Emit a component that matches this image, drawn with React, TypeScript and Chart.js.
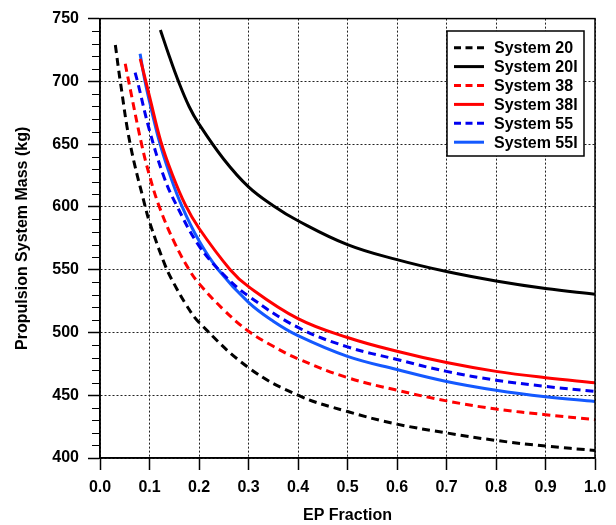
import React, { useEffect, useRef } from 'react';
import { Chart, registerables } from 'chart.js';

Chart.register(...registerables);

// ---- data ----
const xTickLabels = ['0.0', '0.1', '0.2', '0.3', '0.4', '0.5', '0.6', '0.7', '0.8', '0.9', '1.0'];
const yTickLabels = ['400', '450', '500', '550', '600', '650', '700', '750'];
const seriesNames = ['System 20', 'System 20I', 'System 38', 'System 38I', 'System 55', 'System 55I'];

const sys20X = [0.031, 0.041, 0.061, 0.0915, 0.1, 0.132, 0.15, 0.175, 0.2, 0.3, 0.4, 0.5, 0.6, 0.7, 0.8, 0.9, 1.0];
const sys20Y = [729, 700, 650, 600, 588, 553, 538.5, 521.5, 508, 472, 450, 437, 427, 420, 414, 409.5, 406];

const sys20IX = [0.122, 0.14, 0.1585, 0.18, 0.2, 0.25, 0.3, 0.35, 0.4, 0.5, 0.6, 0.7, 0.8, 0.9, 1.0];
const sys20IY = [741, 720, 700, 680, 666, 638, 616, 601, 589, 570, 558, 548.5, 541, 535, 530.5];

const sys38X = [0.051, 0.058, 0.084, 0.1, 0.12, 0.15, 0.18, 0.2, 0.25, 0.3, 0.35, 0.4, 0.5, 0.6, 0.7, 0.8, 0.9, 1.0];
const sys38Y = [714, 700, 650, 625, 600, 572, 550, 539, 518, 501, 489, 479, 464, 454, 445.5, 439, 434.5, 430.5];

const sys38IX = [0.0813, 0.0926, 0.1, 0.123, 0.145, 0.172, 0.2, 0.263, 0.3, 0.4, 0.5, 0.6, 0.7, 0.8, 0.9, 1.0];
const sys38IY = [718, 700, 688, 652, 627, 602, 583, 550, 536.5, 511, 496, 485, 476, 469, 464, 460];

const sys55X = [0.071, 0.0757, 0.1, 0.13, 0.155, 0.2, 0.25, 0.3, 0.4, 0.5, 0.6, 0.7, 0.8, 0.9, 1.0];
const sys55Y = [707, 700, 661, 623, 601, 569, 546, 529, 504, 488.5, 478.5, 469, 462, 457, 453];

const sys55IX = [0.081, 0.091, 0.1, 0.12, 0.14, 0.165, 0.2, 0.239, 0.3, 0.35, 0.4, 0.5, 0.6, 0.7, 0.8, 0.9, 1.0];
const sys55IY = [722, 700, 684, 652, 627, 601, 573, 550, 524, 509, 497.5, 481, 470.5, 461, 454, 448.8, 445];

const FONT = "'Liberation Sans', Arial, Helvetica, sans-serif";

const toPoints = (xs: number[], ys: number[]) => xs.map((x, i) => ({ x, y: ys[i] }));

const styles = [
  { color: '#000000', dash: [8, 5] },
  { color: '#000000', dash: [] as number[] },
  { color: '#ff0000', dash: [8, 5] },
  { color: '#ff0000', dash: [] as number[] },
  { color: '#0000f0', dash: [8, 5] },
  { color: '#1459ff', dash: [] as number[] },
];

const framePlugin = {
  id: 'frameAndLegend',
  afterDraw(chart: any) {
    const { ctx, chartArea, scales } = chart;
    const { left, right, top, bottom } = chartArea;
    ctx.save();
    // minor y ticks
    const ys = scales.y;
    ctx.strokeStyle = '#000';
    ctx.lineWidth = 1;
    for (let v = 400; v <= 750; v += 10) {
      if (v % 50 === 0) continue;
      const py = Math.round(ys.getPixelForValue(v)) + 0.5;
      ctx.beginPath();
      ctx.moveTo(left - 8, py);
      ctx.lineTo(left, py);
      ctx.stroke();
    }
    // frame
    ctx.lineWidth = 1.5;
    ctx.strokeStyle = '#000';
    ctx.strokeRect(left, top, right - left, bottom - top);

    // legend
    const bx = 447, by = 31, bw = 137, bh = 125;
    ctx.fillStyle = '#fff';
    ctx.fillRect(bx, by, bw, bh);
    ctx.lineWidth = 1.5;
    ctx.strokeRect(bx, by, bw, bh);
    ctx.font = `bold 16px ${FONT}`;
    ctx.textBaseline = 'middle';
    ctx.textAlign = 'left';
    chart.data.datasets.forEach((ds: any, i: number) => {
      const y = 47.7 + i * 18.9;
      ctx.beginPath();
      ctx.setLineDash(ds.borderDash && ds.borderDash.length ? [7, 4.5] : []);
      ctx.strokeStyle = ds.borderColor;
      ctx.lineWidth = 3;
      ctx.moveTo(454, y);
      ctx.lineTo(484, y);
      ctx.stroke();
      ctx.setLineDash([]);
      ctx.fillStyle = '#000';
      ctx.fillText(ds.label, 494, y + 1);
    });
    ctx.restore();
  },
};

export default function App() {
  const canvasRef = useRef<HTMLCanvasElement | null>(null);

  useEffect(() => {
    if (!canvasRef.current) return;
    const xsList = [sys20X, sys20IX, sys38X, sys38IX, sys55X, sys55IX];
    const ysList = [sys20Y, sys20IY, sys38Y, sys38IY, sys55Y, sys55IY];
    const datasets = seriesNames.map((name, i) => ({
      label: name,
      data: toPoints(xsList[i], ysList[i]),
      borderColor: styles[i].color,
      backgroundColor: styles[i].color,
      borderDash: styles[i].dash,
      borderWidth: 3,
      pointRadius: 0,
      fill: false,
      tension: 0.4,
    }));

    const gridColor = (c: any) => (c.tick && c.tick.value % 50 === 0 ? '#222' : 'rgba(0,0,0,0)');
    const tickColor = (c: any) => (c.tick && c.tick.value % 50 === 0 ? '#000' : 'rgba(0,0,0,0)');

    const chart = new Chart(canvasRef.current, {
      type: 'line',
      data: { datasets },
      plugins: [framePlugin],
      options: {
        animation: false,
        responsive: true,
        maintainAspectRatio: false,
        layout: { padding: { left: 0, right: 21, top: 15, bottom: 0 } },
        plugins: { legend: { display: false }, tooltip: { enabled: false } },
        scales: {
          x: {
            type: 'linear',
            min: 0,
            max: 1,
            afterFit: (s: any) => { s.height = 67; },
            ticks: {
              stepSize: 0.1,
              autoSkip: false,
              maxRotation: 0,
              padding: 8,
              color: '#000',
              font: { family: FONT, size: 16, weight: 'bold' },
              callback: (v: any) => xTickLabels[Math.round(Number(v) * 10)] ?? '',
            },
            grid: {
              color: '#222',
              lineWidth: 1,
              tickLength: 12,
              tickColor: '#000',
              tickWidth: 1.5,
            },
            border: { display: true, color: '#000', width: 1.5, dash: [2, 2] },
            title: {
              display: true,
              text: 'EP Fraction',
              color: '#000',
              font: { family: FONT, size: 16, weight: 'bold' },
              padding: { top: 0, bottom: 0 },
            },
          },
          y: {
            type: 'linear',
            min: 400,
            max: 750,
            afterFit: (s: any) => { s.width = 100; },
            ticks: {
              stepSize: 10,
              autoSkip: false,
              padding: 9,
              color: '#000',
              font: { family: FONT, size: 16, weight: 'bold' },
              callback: (v: any) => {
                const n = Number(v);
                return n % 50 === 0 ? (yTickLabels.find((t) => Number(t) === n) ?? '') : '';
              },
            },
            grid: {
              color: gridColor,
              lineWidth: 1,
              tickLength: 12,
              tickColor: tickColor,
              tickWidth: 1.5,
            },
            border: { display: true, color: '#000', width: 1.5, dash: [2, 2] },
            title: {
              display: true,
              text: 'Propulsion System Mass (kg)',
              color: '#000',
              font: { family: FONT, size: 16, weight: 'bold' },
              padding: { top: 13, bottom: 0 },
            },
          },
        },
      },
    });
    return () => chart.destroy();
  }, []);

  return (
    <div style={{ position: 'absolute', left: 0, top: 0, width: 616, height: 525, background: '#fff' }}>
      <canvas ref={canvasRef} />
    </div>
  );
}
